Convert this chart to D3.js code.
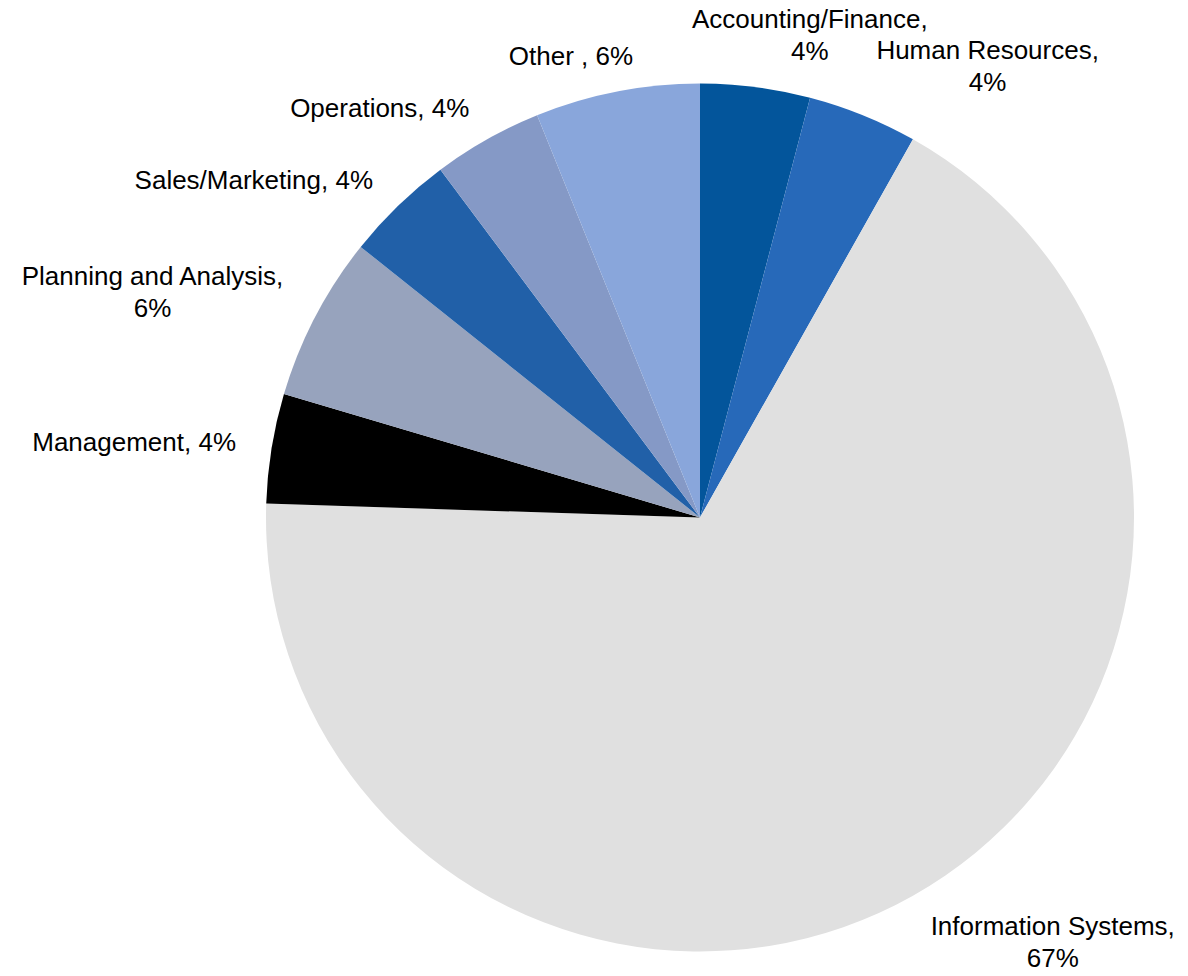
<!DOCTYPE html>
<html>
<head>
<meta charset="utf-8">
<script src="https://cdn.jsdelivr.net/npm/d3@7"></script>
<style>
  body { margin: 0; background: #fff; }
  text { font-family: "Liberation Sans", Arial, sans-serif; font-size: 26px; fill: #000; }
</style>
</head>
<body>
<div class="svg-container"></div>
<script>
// chart data (slice order: clockwise from 12 o'clock)
const categories = ['Accounting/Finance', 'Human Resources', 'Information Systems', 'Management',
  'Planning and Analysis', 'Sales/Marketing', 'Operations', 'Other '];
const counts = [2, 2, 33, 2, 3, 2, 2, 3];
const sliceColors = ['#03559b', '#2769b9', '#e0e0e0', '#000000', '#97a3bd', '#2160a8', '#8599c6', '#89a6db'];

const renderPie = () => {
  // set up required dimensions
  const width = 1188;
  const height = 976;
  const cx = 700, cy = 517.5, radius = 434;

  const svg = d3.select('.svg-container')
    .append('svg')
    .attr('width', width)
    .attr('height', height);

  const data = categories.map((c, i) => ({ name: c, value: counts[i], color: sliceColors[i] }));
  const total = d3.sum(counts);

  const pie = d3.pie().sort(null).value(d => d.value);
  const arc = d3.arc().innerRadius(0).outerRadius(radius);
  const arcs = pie(data);

  const g = svg.append('g').attr('transform', `translate(${cx},${cy})`);

  g.selectAll('path')
    .data(arcs)
    .enter()
    .append('path')
    .attr('d', arc)
    .attr('fill', d => d.data.color);

  // labels outside the slice end, wrapped when they get too wide
  const labelArc = d3.arc().innerRadius(radius + 36).outerRadius(radius + 36);
  const lineHeight = 32;
  const clamp = v => Math.max(-1, Math.min(1, v));

  const label = g.selectAll('g.label')
    .data(arcs)
    .enter()
    .append('g')
    .attr('class', 'label');

  label.each(function (d) {
    const pct = Math.round(d.data.value / total * 100) + '%';
    const el = d3.select(this);
    const t = el.append('text').attr('text-anchor', 'middle');
    const full = `${d.data.name}, ${pct}`;
    t.text(full);
    let lines = [full];
    if (t.node().getComputedTextLength() > 250) lines = [`${d.data.name},`, pct];
    t.text(null);
    lines.forEach((l, i) => {
      t.append('tspan').attr('x', 0).attr('y', i * lineHeight).text(l);
    });
    const hw = t.node().getBBox().width / 2;
    const hh = (lines.length * lineHeight) / 2;
    const a = (d.startAngle + d.endAngle) / 2;
    const [ax, ay] = labelArc.centroid(d);
    // box edge touches the anchor sideways; the line nearest the pie sits level with it
    const lx = ax + hw * clamp(Math.sin(a) * 3.3);
    const ly = ay - (hh - lineHeight / 2) * clamp(Math.cos(a) * 1.1);
    const firstBaseline = ly - hh + lineHeight / 2 + 9;
    el.attr('transform', `translate(${lx},${firstBaseline})`);
  });
};

renderPie();
</script>
</body>
</html>
